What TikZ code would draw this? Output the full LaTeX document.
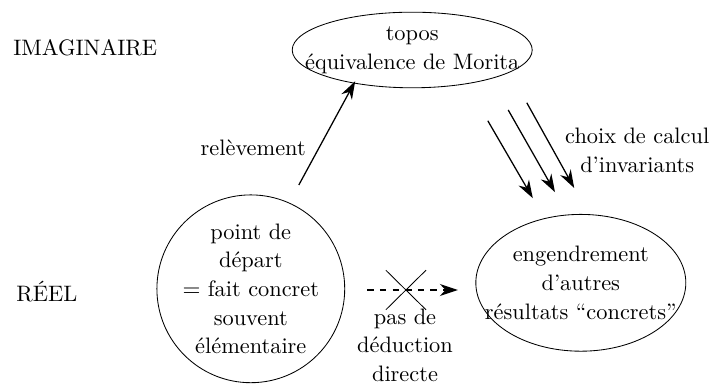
\documentclass[tikz,border=0pt]{standalone}
\usetikzlibrary{arrows.meta}
\begin{document}
\begin{tikzpicture}[align=center, font=\fontsize{10.6}{13.6}\selectfont,
    fleche/.style={-{Stealth[length=3mm,width=2mm]}, semithick}]
    \useasboundingbox (0,0) rectangle (11.883,6.383);

    % Levels
    \node (imag) at (1.42,5.58) {IMAGINAIRE};
    \node (reel) at (0.78,1.53) {RÉEL};

    % Main bubbles
    \node (topos) at (6.87,5.55) {topos\\équivalence de Morita};
    \draw (topos) ellipse [x radius=2cm, y radius=0.63cm];
    \node (depart) at (4.18,1.57)
        {point de\\départ\\$=$ fait concret\\souvent\\élémentaire};
    \draw (depart) circle [radius=1.565cm];
    \node (engendre) at (9.68,1.67)
        {engendrement\\d'autres\\résultats ``concrets''};
    \draw (engendre) ellipse [x radius=1.75cm, y radius=1.14cm];

    % Lifting
    \coordinate (r1) at (4.98,3.3);
    \coordinate (r2) at (5.92,5.03);
    \draw[fleche] (r1) -- (r2);
    \node (relev) at (4.22,3.92) {relèvement};

    % Computing invariants
    \coordinate (a1) at (8.13,4.37); \coordinate (b1) at (8.88,3.08);
    \coordinate (a2) at (8.47,4.55); \coordinate (b2) at (9.25,3.18);
    \coordinate (a3) at (8.78,4.67); \coordinate (b3) at (9.57,3.25);
    \foreach \i in {1,2,3}
        \draw[fleche] (a\i) -- (b\i);
    \node (choix) at (10.62,3.88) {choix de calcul\\d'invariants};

    % No direct deduction
    \coordinate (d1) at (6.12,1.55);
    \coordinate (d2) at (7.63,1.55);
    \draw[fleche, dashed] (d1) -- (d2);
    \draw (6.43,1.88) -- (7.1,1.22);
    \draw (6.43,1.22) -- (7.1,1.88);
    \node (pas) at (6.75,0.63) {pas de\\déduction\\directe};
\end{tikzpicture}
\end{document}
